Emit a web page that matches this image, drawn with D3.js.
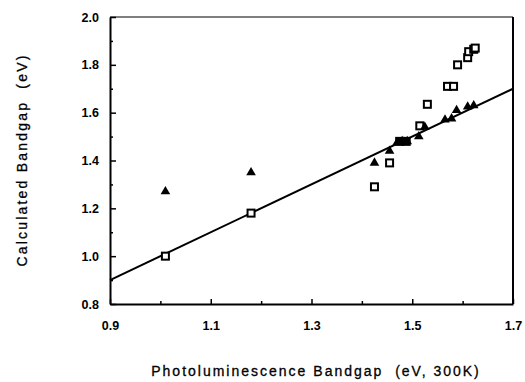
<!DOCTYPE html>
<html>
<head>
<meta charset="utf-8">
<title>Bandgap</title>
<script src="https://d3js.org/d3.v7.min.js"></script>
<style>
  body { margin: 0; background: #fff; }
  svg { display: block; }
  text { font-family: "Liberation Sans", Arial, sans-serif; fill: #000; white-space: pre; }
</style>
</head>
<body>
<div id="chart"></div>
<script>
// photoluminescence bandgap (x) vs calculated bandgap (y), eV
var squareX = [1.01, 1.18, 1.425, 1.455, 1.515, 1.53, 1.57, 1.582, 1.59, 1.61, 1.612, 1.622, 1.625];
var squareY = [1.00, 1.18, 1.29, 1.39, 1.545, 1.635, 1.71, 1.71, 1.80, 1.83, 1.855, 1.865, 1.87];
// squares printed solid where they pile up
var solidX = [1.475, 1.488];
var solidY = [1.48, 1.48];
var triX = [1.01, 1.18, 1.425, 1.455, 1.47, 1.48, 1.49, 1.513, 1.525, 1.565, 1.578, 1.588, 1.61, 1.622];
var triY = [1.27, 1.35, 1.39, 1.44, 1.475, 1.48, 1.48, 1.50, 1.54, 1.57, 1.575, 1.61, 1.625, 1.63];
var fitX = [0.9, 1.7];
var fitY = [0.9, 1.7];
var xTicks = [0.9, 1.1, 1.3, 1.5, 1.7];
var yTicks = [0.8, 1.0, 1.2, 1.4, 1.6, 1.8, 2.0];

var W = 525, H = 382;
var mLeft = 110, mRight = 513, mTop = 17, mBottom = 304;

var svg = d3.select("#chart").append("svg")
  .attr("width", W).attr("height", H);

var x = d3.scaleLinear().domain([0.9, 1.7]).range([mLeft, mRight]);
var y = d3.scaleLinear().domain([0.8, 2.0]).range([mBottom, mTop]);

// frame
svg.append("line").attr("x1", mLeft).attr("x2", mRight).attr("y1", mTop).attr("y2", mTop)
  .attr("stroke", "#000").attr("stroke-width", 1.2);
svg.append("line").attr("x1", mRight).attr("x2", mRight).attr("y1", mTop).attr("y2", mBottom)
  .attr("stroke", "#000").attr("stroke-width", 2);

// left axis, ticks pointing in
var yAxis = d3.axisLeft(y).tickValues(yTicks).tickFormat(d3.format(".1f"))
  .tickSizeInner(-6).tickSizeOuter(0).tickPadding(11);
var gy = svg.append("g").attr("transform", "translate(" + mLeft + ",0)").call(yAxis);
gy.selectAll(".tick line").attr("stroke-width", 1.5);
var yMinor = d3.axisLeft(y).tickValues(d3.range(0.9, 2.0, 0.2)).tickFormat("")
  .tickSizeInner(-3).tickSizeOuter(0);
var gym = svg.append("g").attr("transform", "translate(" + mLeft + ",0)").call(yMinor);
gym.select(".domain").remove();
gym.selectAll(".tick line").attr("stroke-width", 1.5);
gy.select(".domain").attr("stroke-width", 2);

// bottom axis
var xAxis = d3.axisBottom(x).tickValues(xTicks).tickFormat(d3.format(".1f"))
  .tickSizeInner(-5).tickSizeOuter(0).tickPadding(17);
var gx = svg.append("g").attr("transform", "translate(0," + mBottom + ")").call(xAxis);
gx.select(".domain").attr("stroke-width", 2);
gx.selectAll(".tick line").attr("stroke-width", 1.5);
var xMinor = d3.axisBottom(x).tickValues(d3.range(1.0, 1.7, 0.2)).tickFormat("")
  .tickSizeInner(-3).tickSizeOuter(0);
var gxm = svg.append("g").attr("transform", "translate(0," + mBottom + ")").call(xMinor);
gxm.select(".domain").remove();
gxm.selectAll(".tick line").attr("stroke-width", 1.5);

svg.selectAll(".tick text")
  .attr("font-family", "Liberation Sans, Arial, sans-serif")
  .attr("font-size", 12.5).attr("font-weight", "bold");

// y = x line
var line = d3.line().x(function(d){ return x(d[0]); }).y(function(d){ return y(d[1]); });
svg.append("path")
  .datum(d3.zip(fitX, fitY))
  .attr("d", line)
  .attr("fill", "none").attr("stroke", "#000").attr("stroke-width", 2);

// open squares
svg.selectAll("rect.sq")
  .data(d3.zip(squareX, squareY))
  .enter().append("rect")
  .attr("class", "sq")
  .attr("x", function(d){ return x(d[0]) - 3.5; })
  .attr("y", function(d){ return y(d[1]) - 3.5; })
  .attr("width", 7).attr("height", 7)
  .attr("fill", "#fff").attr("stroke", "#000").attr("stroke-width", 2);

svg.selectAll("rect.solid")
  .data(d3.zip(solidX, solidY))
  .enter().append("rect")
  .attr("class", "solid")
  .attr("x", function(d){ return x(d[0]) - 4.5; })
  .attr("y", function(d){ return y(d[1]) - 4.5; })
  .attr("width", 9).attr("height", 9)
  .attr("fill", "#000");

// filled triangles
var tri = d3.symbol().type(d3.symbolTriangle).size(40);
svg.selectAll("path.tri")
  .data(d3.zip(triX, triY))
  .enter().append("path")
  .attr("class", "tri")
  .attr("d", tri)
  .attr("transform", function(d){ return "translate(" + x(d[0]) + "," + y(d[1]) + ")"; })
  .attr("fill", "#000");

// axis titles
svg.append("text")
  .attr("x", 316).attr("y", 376)
  .attr("text-anchor", "middle")
  .attr("font-size", 14).attr("letter-spacing", 2)
  .attr("stroke", "#000").attr("stroke-width", 0.3)
  .text("Photoluminescence Bandgap  (eV, 300K)");

svg.append("text")
  .attr("transform", "translate(27,160) rotate(-90)")
  .attr("text-anchor", "middle")
  .attr("font-size", 14).attr("letter-spacing", 2.2)
  .attr("stroke", "#000").attr("stroke-width", 0.3)
  .text("Calculated Bandgap  (eV)");
</script>
</body>
</html>
